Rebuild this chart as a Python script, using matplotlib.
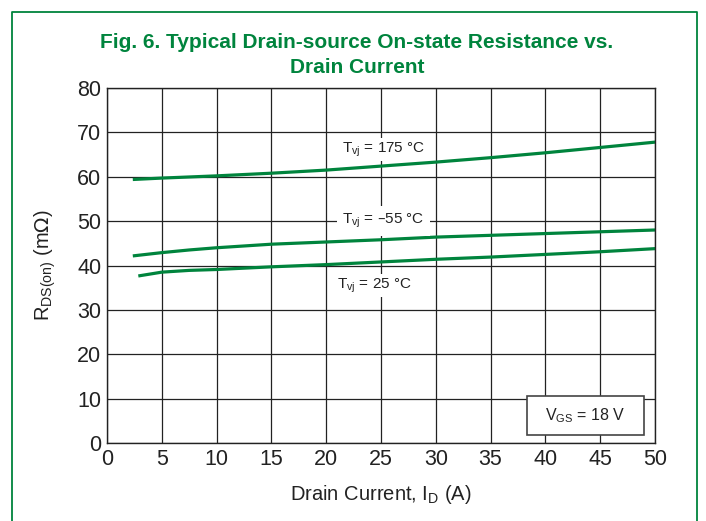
import numpy as np
import matplotlib.pyplot as plt
from matplotlib.lines import Line2D

# data
id_175 = [2.5, 5, 10, 15, 20, 25, 30, 35, 40, 45, 50]
r_175 = [59.4, 59.7, 60.2, 60.8, 61.5, 62.4, 63.3, 64.3, 65.4, 66.6, 67.8]

id_m55 = [2.5, 5, 7.5, 10, 15, 20, 25, 30, 35, 40, 45, 50]
r_m55 = [42.2, 42.9, 43.5, 44.0, 44.8, 45.3, 45.8, 46.4, 46.8, 47.2, 47.6, 48.0]

id_25 = [3, 5, 7.5, 10, 15, 20, 25, 30, 35, 40, 45, 50]
r_25 = [37.7, 38.5, 38.9, 39.1, 39.7, 40.2, 40.8, 41.4, 41.9, 42.5, 43.1, 43.8]

green = '#00843d'
font = ['Liberation Sans', 'DejaVu Sans']
plt.rcParams['font.family'] = font

fig = plt.figure(figsize=(7.06, 5.21), dpi=100)
ax = fig.add_axes([107/706, 1 - 443/521, 548/706, 355/521])

ax.plot(id_175, r_175, color=green, lw=2.3)
ax.plot(id_m55, r_m55, color=green, lw=2.3)
ax.plot(id_25, r_25, color=green, lw=2.3)

ax.set_xlim(0, 50)
ax.set_ylim(0, 80)
ax.set_xticks(np.arange(0, 51, 5))
ax.set_yticks(np.arange(0, 81, 10))
ax.grid(True, color='#222222', lw=0.9)
ax.set_axisbelow(True)
ax.tick_params(length=0, labelsize=15.5, pad=4, colors='#222222')
for s in ax.spines.values():
    s.set_color('#222222')
    s.set_linewidth(1.0)

box = dict(facecolor='white', edgecolor='none', pad=1.5)
ax.text(25.2, 66.2, r'T$_{\mathregular{vj}}$ = 175 °C', ha='center', va='center',
        fontsize=11, color='#222222', bbox=box)
ax.text(25.2, 50.0, r'T$_{\mathregular{vj}}$ = –55 °C', ha='center', va='center',
        fontsize=11, color='#222222', bbox=dict(facecolor='white', edgecolor='none', pad=4))
ax.text(24.4, 35.5, r'T$_{\mathregular{vj}}$ = 25 °C', ha='center', va='center',
        fontsize=11, color='#222222', bbox=box)

ax.add_patch(plt.Rectangle((38.3, 1.8), 10.7, 8.8, facecolor='white',
                           edgecolor='#444444', lw=1.2, zorder=3))
ax.text(43.65, 6.2, r'V$_{\mathregular{GS}}$ = 18 V', ha='center', va='center',
        fontsize=11.5, color='#222222', zorder=4)

ax.set_xlabel(r'Drain Current, I$_{\mathregular{D}}$ (A)', fontsize=14.5,
              color='#222222', labelpad=10)
ax.set_ylabel(r'R$_{\mathregular{DS(on)}}$ (m$\Omega$)', fontsize=14.5,
              color='#222222', labelpad=14)

fig.text(357/706, 1 - 55/521,
         'Fig. 6. Typical Drain-source On-state Resistance vs.\nDrain Current',
         ha='center', va='center', fontsize=15, fontweight='bold', color=green,
         linespacing=1.35)

# green frame around the figure (open at the bottom)
x0, x1, y1 = 12/706, 697/706, 1 - 12/521
fig.add_artist(Line2D([x0, x0, x1, x1], [0, y1, y1, 0], color=green, lw=1.3))

fig.savefig('out.png', dpi=100)
